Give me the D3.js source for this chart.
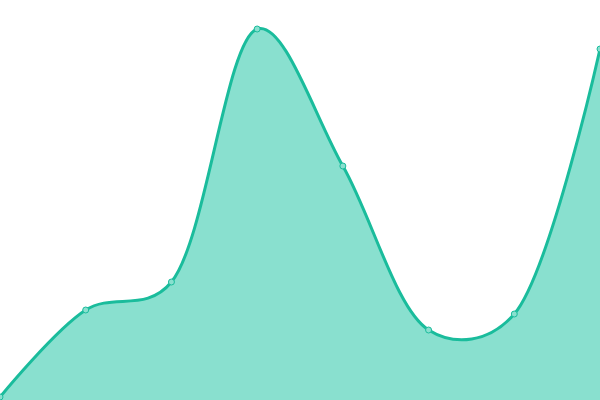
<!DOCTYPE html>
<html><head><meta charset="utf-8">
<script src="https://cdn.jsdelivr.net/npm/d3@7"></script>
<style>html,body{margin:0;padding:0;background:#fff;overflow:hidden}svg{display:block}</style>
</head><body>
<svg id="c" width="600" height="400"></svg>
<script>
const categories = [0, 1, 2, 3, 4, 5, 6, 7];
const values = [0.75, 22.5, 29.5, 92.75, 58.5, 17.5, 21.5, 87.75];

const W = 600, H = 400;
const svg = d3.select("#c");
const x = d3.scaleLinear().domain([0, categories.length - 1]).range([0, W]);
const y = d3.scaleLinear().domain([0, 100]).range([H, 0]);
const data = categories.map((c, i) => ({c, v: values[i]}));
const curve = d3.curveCatmullRom.alpha(0.3);

const area = d3.area().x(d => x(d.c)).y0(H).y1(d => y(d.v)).curve(curve);
const line = d3.line().x(d => x(d.c)).y(d => y(d.v)).curve(curve);

svg.append("path").datum(data).attr("d", area).attr("fill", "#89e0cf");
svg.append("path").datum(data).attr("d", line).attr("fill", "none").attr("stroke", "#1abc9c").attr("stroke-width", 3);
svg.selectAll("circle").data(data).join("circle")
  .attr("cx", d => x(d.c)).attr("cy", d => y(d.v)).attr("r", 3)
  .attr("fill", "#89e0cf").attr("stroke", "#1abc9c").attr("stroke-width", 1);
</script>
</body></html>
